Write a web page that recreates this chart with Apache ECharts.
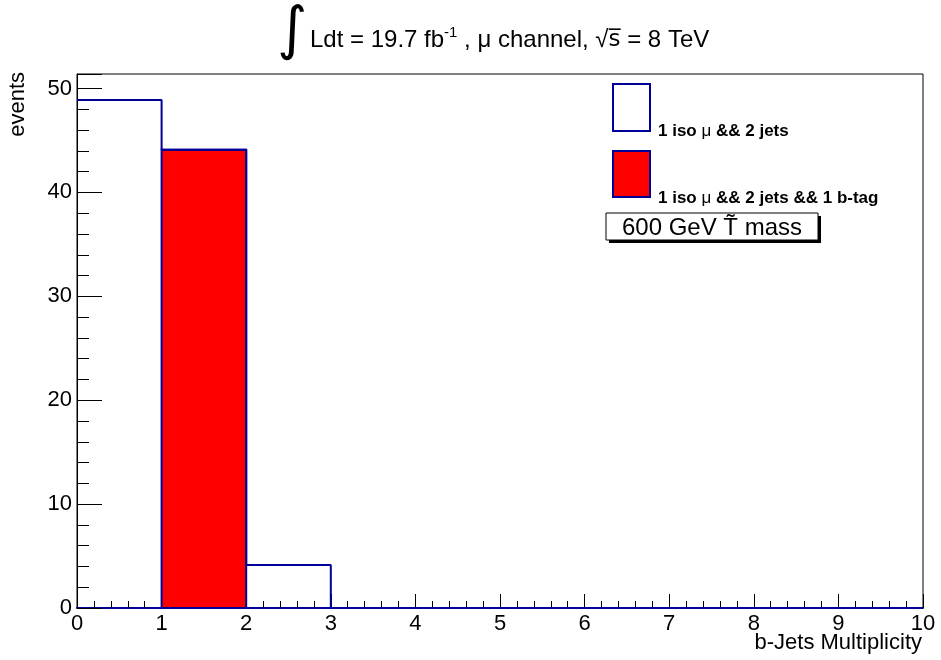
<!DOCTYPE html>
<html>
<head>
<meta charset="utf-8">
<script src="https://cdn.jsdelivr.net/npm/echarts@6/dist/echarts.min.js"></script>
<style>
  html, body { margin: 0; padding: 0; background: #fff; }
  #chart { width: 941px; height: 660px; }
</style>
</head>
<body>
<div id="chart"></div>
<script>
// Histogram bins: lower edge of each unit-wide bin in b-jet multiplicity
const binLow = [0, 1, 2, 3, 4, 5, 6, 7, 8, 9];
const binWidth = 1;
// Events: 1 iso mu && 2 jets
const eventsAll = [48.9, 44.1, 4.13, 0, 0, 0, 0, 0, 0, 0];
// Events: 1 iso mu && 2 jets && 1 b-tag
const eventsBtag = [0, 44.1, 0, 0, 0, 0, 0, 0, 0, 0];
// Axis ranges
const xRange = [0, 10];
const yRange = [0, 51.4];
const yLabelStep = 10;
const yMinorStep = 2;

const FONT = 'Liberation Sans, Arial, Helvetica, sans-serif';
const NAVY = '#000099';

// Step outline points for the inclusive histogram
const outline = binLow.map((x, i) => [x, eventsAll[i]]);
outline.push([binLow[binLow.length - 1] + binWidth, eventsAll[eventsAll.length - 1]]);

const btagData = binLow.map((x, i) => [x, eventsBtag[i]]);

const chart = echarts.init(document.getElementById('chart'), null, { renderer: 'canvas' });

const legendRich = {
  b: { fontFamily: FONT, fontWeight: 'bold', fontSize: 17, fill: '#000' },
  m: { fontFamily: FONT, fontWeight: 'normal', fontSize: 17, fill: '#000' }
};

chart.setOption({
  animation: false,
  backgroundColor: '#fff',
  grid: {
    left: 77, right: 18, top: 74, bottom: 52,
    show: true, borderColor: '#000', borderWidth: 1, backgroundColor: 'transparent'
  },
  xAxis: {
    type: 'value',
    min: xRange[0], max: xRange[1], interval: 1,
    axisLine: { show: true, onZero: false, lineStyle: { color: NAVY, width: 2 } },
    axisTick: { show: true, inside: true, length: 14, lineStyle: { color: '#000', width: 1 } },
    minorTick: { show: true, splitNumber: 5, length: 7, lineStyle: { color: '#000', width: 1 } },
    splitLine: { show: false },
    axisLabel: { color: '#000', fontFamily: FONT, fontSize: 22, margin: 5 }
  },
  yAxis: [
    {
      type: 'value',
      min: yRange[0], max: yRange[1], interval: yMinorStep,
      axisLine: { show: true, onZero: false, lineStyle: { color: '#000', width: 1 } },
      axisTick: { show: true, inside: true, length: 12, lineStyle: { color: '#000', width: 1 } },
      splitLine: { show: false },
      axisLabel: {
        color: '#000', fontFamily: FONT, fontSize: 22, margin: 5,
        formatter: v => (Math.abs(v % yLabelStep) < 1e-9 ? String(v) : '')
      }
    },
    {
      type: 'value', position: 'left',
      min: yRange[0], max: yRange[1], interval: yLabelStep,
      axisLine: { show: false },
      axisTick: { show: true, inside: true, length: 25, lineStyle: { color: '#000', width: 1 } },
      splitLine: { show: false },
      axisLabel: { show: false }
    }
  ],
  series: [
    {
      name: '1 iso mu && 2 jets && 1 b-tag',
      type: 'custom',
      data: btagData,
      z: 2,
      renderItem: (params, api) => {
        const lo = api.value(0);
        const v = api.value(1);
        if (!v) return null;
        const a = api.coord([lo, 0]);
        const b = api.coord([lo + binWidth, v]);
        return {
          type: 'rect',
          shape: { x: a[0], y: b[1], width: b[0] - a[0], height: a[1] - b[1] },
          style: { fill: '#ff0000', stroke: NAVY, lineWidth: 2 }
        };
      }
    },
    {
      name: '1 iso mu && 2 jets',
      type: 'line',
      step: 'end',
      data: outline,
      symbol: 'none',
      z: 3,
      lineStyle: { color: NAVY, width: 2 }
    }
  ],
  graphic: [
    // title
    {
      type: 'text', x: 292, y: 33,
      style: { text: '\u222B', font: '58px "DejaVu Sans", sans-serif', fill: '#000', align: 'center', verticalAlign: 'middle' }
    },
    {
      type: 'text', x: 310, y: 40,
      style: {
        text: '{t|Ldt = 19.7 fb}{sup|-1}{t| , \u03BC channel, \u221A}{s|s\u0305}{t| = 8 TeV}',
        align: 'left', verticalAlign: 'middle',
        rich: {
          t: { fontFamily: FONT, fontSize: 24, lineHeight: 30, fill: '#000' },
          s: { fontFamily: '"DejaVu Sans", sans-serif', fontSize: 23, lineHeight: 30, fill: '#000' },
          sup: { fontFamily: FONT, fontSize: 15, lineHeight: 30, verticalAlign: 'top', fill: '#000' }
        }
      }
    },
    // y axis title
    {
      type: 'text', x: 18, y: 72, rotation: Math.PI / 2,
      style: { text: 'events', font: '22px ' + FONT, fill: '#000', align: 'right', verticalAlign: 'middle' }
    },
    // x axis title
    {
      type: 'text', x: 922, y: 643,
      style: { text: 'b-Jets Multiplicity', font: '22px ' + FONT, fill: '#000', align: 'right', verticalAlign: 'middle' }
    },
    // legend
    {
      type: 'rect', shape: { x: 613, y: 84, width: 37, height: 47 },
      style: { fill: '#fff', stroke: NAVY, lineWidth: 2 }
    },
    {
      type: 'text', x: 658, y: 131,
      style: { text: '{b|1 iso }{m|\u03BC}{b| && 2 jets}', rich: legendRich, align: 'left', verticalAlign: 'middle' }
    },
    {
      type: 'rect', shape: { x: 613, y: 151, width: 37, height: 46 },
      style: { fill: '#ff0000', stroke: NAVY, lineWidth: 2 }
    },
    {
      type: 'text', x: 658, y: 198,
      style: { text: '{b|1 iso }{m|\u03BC}{b| && 2 jets && 1 b-tag}', rich: legendRich, align: 'left', verticalAlign: 'middle' }
    },
    // mass label box with drop shadow
    {
      type: 'rect', shape: { x: 609, y: 216, width: 212, height: 27 },
      style: { fill: '#000' }
    },
    {
      type: 'rect', shape: { x: 606, y: 213, width: 212, height: 27 },
      style: { fill: '#fff', stroke: '#000', lineWidth: 1 }
    },
    {
      type: 'text', x: 712, y: 228,
      style: { text: '600 GeV T\u0303 mass', font: '24px ' + FONT, fill: '#000', align: 'center', verticalAlign: 'middle' }
    }
  ]
});
</script>
</body>
</html>
